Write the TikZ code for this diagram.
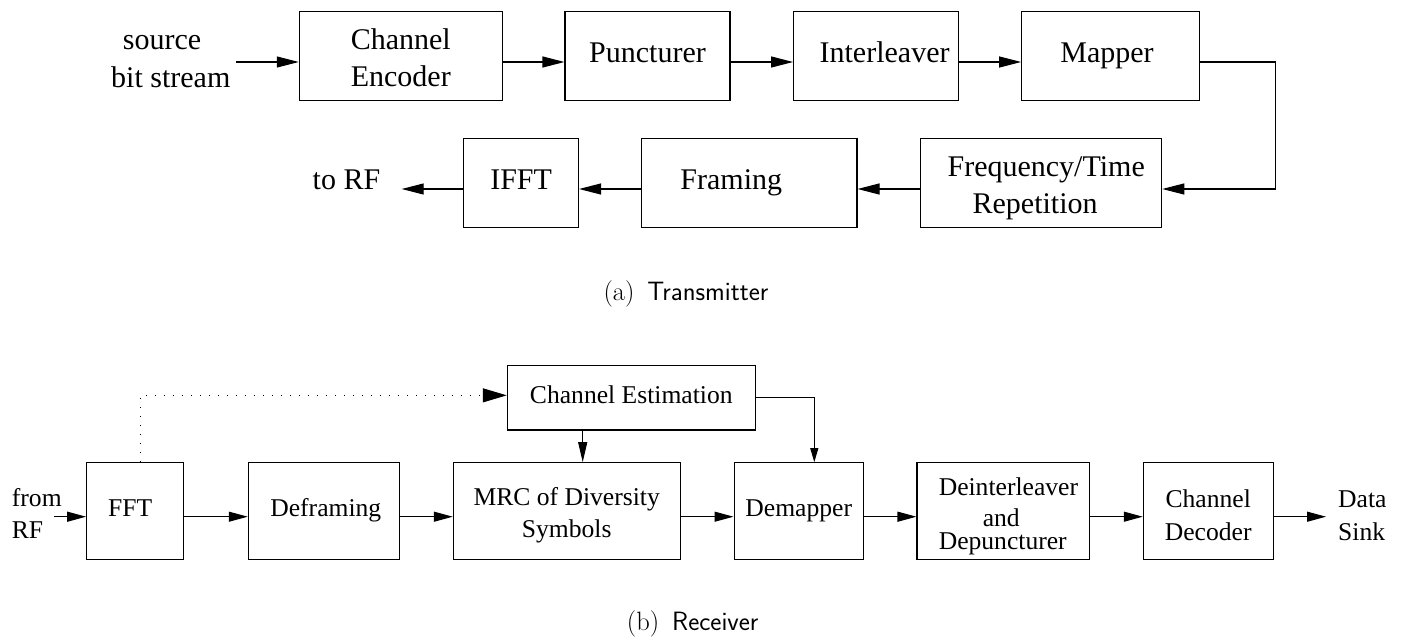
\documentclass[tikz,border=0pt]{standalone}
\usepackage{fontspec}
\newfontfamily\tms{Liberation Serif}
\usetikzlibrary{arrows.meta}
\newcommand\linesC[1]{\vtop{\halign{\hfil##\hfil\cr#1\crcr}}}
\newcommand\linesL[1]{\vtop{\halign{##\hfil\cr#1\crcr}}}
\begin{document}
\begin{tikzpicture}[x=1pt,y=-1pt,
  box/.style={draw, line width=1.1pt, inner sep=0pt, anchor=center},
  big/.style={font=\tms\fontsize{30}{37}\selectfont},
  small/.style={font=\tms\fontsize{25.6}{32.7}\selectfont},
  oneB/.style={text height=20.4pt, text depth=6.6pt},
  oneS/.style={text height=17.4pt, text depth=5.6pt},
  multi/.style={text height=0pt, text depth=#1},
  txt/.style={inner sep=0pt, anchor=base west},
  capt/.style={inner sep=0pt, anchor=base west, font=\fontsize{26.5}{30}\selectfont},
  arrT/.style={line width=1.1pt, -{Triangle[length=22pt,width=11pt]}},
  arrB/.style={line width=1.1pt, -{Triangle[length=19pt,width=10pt]}},
  dotline/.style={line width=1.1pt, dash pattern=on 1.3pt off 7.7pt, -{Triangle[length=24pt,width=14pt]}},
]
\useasboundingbox (0,0) rectangle (1408,639);

% ---------- Transmitter ----------
\node[txt, big] (src1) at (122.7,50) {source};
\node[txt, big] (src2) at (111,87.7) {bit stream};
\coordinate (srcstart) at (236,62);

\node[box, big, multi=12pt, minimum width=203pt, minimum height=89pt] (ce) at (400.8,56) {\linesC{Channel\cr Encoder}};
\node[box, big, oneB, minimum width=165pt, minimum height=89pt] (pu) at (647.5,56) {Puncturer};
\node[box, big, oneB, minimum width=165pt, minimum height=89pt] (il) at (876.1,56) {\hspace*{17pt}Interleaver};
\node[box, big, oneB, minimum width=177.6pt, minimum height=89pt] (ma) at (1110.5,56) {Mapper\hspace*{7pt}};

\node[box, big, multi=12.6pt, minimum width=241pt, minimum height=89pt] (ftr) at (1041.2,183) {\linesL{\hspace*{10pt}Frequency/Time\cr\hspace*{35pt}Repetition}};
\node[box, big, oneB, minimum width=215.4pt, minimum height=89pt] (fr) at (749.3,183) {Framing\hspace*{36pt}};
\node[box, big, oneB, minimum width=114.8pt, minimum height=89pt] (ifft) at (521.1,183) {IFFT};
\node[txt, big] (torf) at (312.5,190) {to RF};
\coordinate (torfend) at (401.7,189);
\coordinate (mturn) at (1275.7,120);

\draw[arrT] (srcstart) -- ([yshift=-6pt]ce.west);
\draw[arrT] ([yshift=-6pt]ce.east) -- ([yshift=-6pt]pu.west);
\draw[arrT] ([yshift=-6pt]pu.east) -- ([yshift=-6pt]il.west);
\draw[arrT] ([yshift=-6pt]il.east) -- ([yshift=-6pt]ma.west);
\draw[arrT] ([yshift=-6pt]ma.east) -| (mturn) |- ([yshift=-6pt]ftr.east);
\draw[arrT] ([yshift=-6pt]ftr.west) -- ([yshift=-6pt]fr.east);
\draw[arrT] ([yshift=-6pt]fr.west) -- ([yshift=-6pt]ifft.east);
\draw[arrT] ([yshift=-6pt]ifft.west) -- (torfend);

\node[capt] (capa) at (603.3,300) {(a)\hspace{13pt}\textsf{Transmitter}};

% ---------- Receiver ----------
\node[txt, small] (from1) at (11.7,506.7) {from};
\node[txt, small] (from2) at (11.7,538) {RF};
\coordinate (fromstart) at (54,516.7);

\node[box, small, oneS, minimum width=248pt, minimum height=64.3pt] (cest) at (631.3,397.85) {Channel Estimation};

\node[box, small, oneS, minimum width=97pt, minimum height=96.6pt] (fft) at (135.2,511) {FFT\hspace*{10pt}};
\node[box, small, oneS, minimum width=151pt, minimum height=96.6pt] (dfr) at (323.8,511) {\hspace*{4pt}Deframing};
\node[box, small, multi=12pt, minimum width=226.7pt, minimum height=96.6pt] (mrc) at (566.7,511) {\linesC{MRC of Diversity\cr Symbols}};
\node[box, small, oneS, minimum width=129.3pt, minimum height=96.6pt] (dm) at (798.7,511) {Demapper};
\node[box, small, multi=32pt, minimum width=172.8pt, minimum height=96.6pt] (di) at (1003.4,511) {\linesL{\hspace*{10pt}Deinterleaver\cr\noalign{\vskip-1pt}\hspace*{54pt}and\cr\noalign{\vskip-9.5pt}\hspace*{10pt}Depuncturer}};
\node[box, small, multi=7pt, minimum width=129.7pt, minimum height=96.6pt] (cd) at (1208.2,511) {\linesC{Channel\cr Decoder}};

\node[txt, small] (data1) at (1338,507.5) {Data};
\node[txt, small] (data2) at (1338,540) {Sink};
\coordinate (dataend) at (1326,516.7);

\draw[arrB] (fromstart) -- ([yshift=-5.7pt]fft.west);
\draw[arrB] ([yshift=-5.7pt]fft.east) -- ([yshift=-5.7pt]dfr.west);
\draw[arrB] ([yshift=-5.7pt]dfr.east) -- ([yshift=-5.7pt]mrc.west);
\draw[arrB] ([yshift=-5.7pt]mrc.east) -- ([yshift=-5.7pt]dm.west);
\draw[arrB] ([yshift=-5.7pt]dm.east) -- ([yshift=-5.7pt]di.west);
\draw[arrB] ([yshift=-5.7pt]di.east) -- ([yshift=-5.7pt]cd.west);
\draw[arrB] ([yshift=-5.7pt]cd.east) -- (dataend);

\draw[dotline] ([xshift=5.5pt]fft.north) |- ([yshift=2.5pt]cest.west);
\draw[line width=1.1pt, -{Triangle[length=20pt,width=9pt]}] ([xshift=-48.6pt]cest.south) -- ([xshift=-48.6pt]cest.south |- mrc.north);
\draw[line width=1.1pt, -{Triangle[length=14pt,width=8pt]}] (cest.east) -| ([xshift=15.6pt]dm.north);

\node[capt] (capb) at (626.7,630.7) {(b)\hspace{13pt}\textsf{Receiver}};
\end{tikzpicture}
\end{document}
